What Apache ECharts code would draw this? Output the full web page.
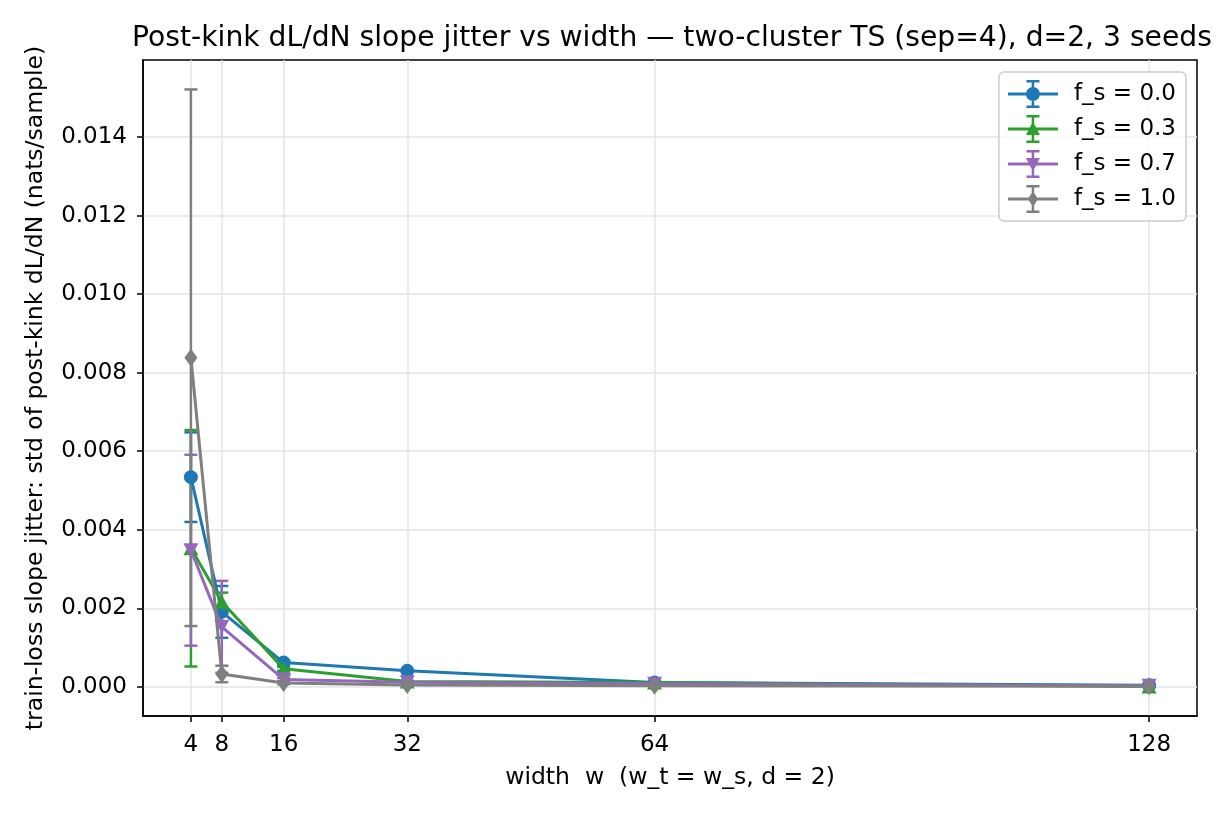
<!DOCTYPE html>
<html>
<head>
<meta charset="utf-8">
<script src="https://cdn.jsdelivr.net/npm/echarts@6.0.0/dist/echarts.min.js"></script>
<style>
  html, body { margin: 0; padding: 0; background: #fff; }
  #chart { width: 1224px; height: 816px; }
</style>
</head>
<body>
<div id="chart"></div>
<script>
// widths on the x axis
const widths = [4, 8, 16, 32, 64, 128];
const xTicks = [4, 8, 16, 32, 64, 128];
const yTicks = [0, 0.002, 0.004, 0.006, 0.008, 0.010, 0.012, 0.014];

// mean and std of the post-kink slope jitter, one pair per f_s
const fs00Mean = [0.00534, 0.00191, 0.00062, 0.00041, 0.00011, 0.00004];
const fs00Std  = [0.00114, 0.00066, 0.00006, 0.00003, 0.00002, 0.00001];
const fs03Mean = [0.00353, 0.00217, 0.00046, 0.00014, 0.00011, 0.00001];
const fs03Std  = [0.00301, 0.00023, 0.00005, 0.00002, 0.00001, 0.00001];
const fs07Mean = [0.00348, 0.00153, 0.00019, 0.00012, 0.00008, 0.00003];
const fs07Std  = [0.00243, 0.00117, 0.00004, 0.00002, 0.00001, 0.00001];
const fs10Mean = [0.00838, 0.00033, 0.00010, 0.00005, 0.00003, 0.00002];
const fs10Std  = [0.00683, 0.00021, 0.00003, 0.00002, 0.00001, 0.00001];

const seriesNames = ['f_s = 0.0', 'f_s = 0.3', 'f_s = 0.7', 'f_s = 1.0'];

const FONT = 'DejaVu Sans';

// legend icons: line + errorbar + marker, in a 50x28 box
const barPart = 'M0,12.5 H50 V15.5 H0 Z M23.75,0 H26.25 V28 H23.75 Z ' +
    'M18.5,0 H31.5 V2.5 H18.5 Z M18.5,25.5 H31.5 V28 H18.5 Z ';
const icons = [
    'path://' + barPart + 'M18,14 A7,7 0 1,1 32,14 A7,7 0 1,1 18,14 Z',
    'path://' + barPart + 'M25,6.5 L32,20 L18,20 Z',
    'path://' + barPart + 'M18,8 L32,8 L25,21.5 Z',
    'path://' + barPart + 'M25,6 L30,14 L25,22 L20,14 Z'
];

const styles = [
    {color: '#1f77b4', symbol: 'circle', size: 14},
    {color: '#2ca02c', symbol: 'triangle', size: [15, 14]},
    {color: '#9467bd', symbol: 'path://M0,0 L10,0 L5,9 Z', size: [15, 14]},
    {color: '#7f7f7f', symbol: 'path://M5,0 L10,8 L5,16 L0,8 Z', size: [13, 18]}
];

const means = [fs00Mean, fs03Mean, fs07Mean, fs10Mean];
const stds = [fs00Std, fs03Std, fs07Std, fs10Std];

function renderErrorBar(params, api) {
    const x = api.value(0);
    const top = api.coord([x, api.value(2)]);
    const bot = api.coord([x, api.value(1)]);
    const hw = 6.5;
    const style = {stroke: api.visual('color'), lineWidth: 2.5, fill: null};
    return {
        type: 'group',
        children: [
            {type: 'line', shape: {x1: top[0], y1: top[1], x2: bot[0], y2: bot[1]}, style: style},
            {type: 'line', shape: {x1: top[0] - hw, y1: top[1], x2: top[0] + hw, y2: top[1]}, style: style},
            {type: 'line', shape: {x1: bot[0] - hw, y1: bot[1], x2: bot[0] + hw, y2: bot[1]}, style: style}
        ]
    };
}

const series = [];
means.forEach(function (m, k) {
    series.push({
        name: 'err' + k,
        type: 'custom',
        renderItem: renderErrorBar,
        itemStyle: {color: styles[k].color},
        encode: {x: 0, y: [1, 2]},
        data: widths.map(function (w, i) { return [w, m[i] - stds[k][i], m[i] + stds[k][i]]; }),
        z: 2,
        silent: true
    });
});
means.forEach(function (m, k) {
    series.push({
        name: seriesNames[k],
        type: 'line',
        data: widths.map(function (w, i) { return [w, m[i]]; }),
        symbol: styles[k].symbol,
        symbolSize: styles[k].size,
        showSymbol: true,
        itemStyle: {color: styles[k].color},
        lineStyle: {color: styles[k].color, width: 3},
        z: 3 + k
    });
});

const chart = echarts.init(document.getElementById('chart'));
chart.setOption({
    animation: false,
    backgroundColor: '#fff',
    textStyle: {fontFamily: FONT},
    title: {
        text: 'Post-kink dL/dN slope jitter vs width \u2014 two-cluster TS (sep=4), d=2, 3 seeds',
        left: 667,
        textAlign: 'center',
        top: 20,
        textStyle: {fontFamily: FONT, fontSize: 28.2, fontWeight: 'normal', color: '#000'}
    },
    grid: {
        left: 143, right: 27, top: 60, bottom: 100,
        show: true, borderColor: '#000', borderWidth: 1.5, backgroundColor: 'transparent'
    },
    legend: {
        orient: 'vertical',
        right: 38,
        top: 72,
        itemWidth: 50,
        itemHeight: 28,
        itemGap: 7,
        padding: [8, 10, 8, 9],
        borderColor: '#cccccc',
        borderWidth: 1.5,
        borderRadius: 5,
        backgroundColor: 'rgba(255,255,255,0.8)',
        textStyle: {fontFamily: FONT, fontSize: 23, color: '#000', padding: [0, 0, 0, 11]},
        data: seriesNames.map(function (n, k) {
            return {name: n, icon: icons[k], itemStyle: {color: styles[k].color, borderWidth: 0}};
        })
    },
    xAxis: {
        type: 'value',
        min: -2.2,
        max: 134.2,
        name: 'width  w  (w_t = w_s, d = 2)',
        nameLocation: 'middle',
        nameGap: 50,
        nameTextStyle: {fontFamily: FONT, fontSize: 23.5, color: '#000'},
        axisLine: {show: true, onZero: false, lineStyle: {color: '#000', width: 1.5}},
        axisTick: {show: true, length: 6, lineStyle: {color: '#000', width: 1.5}, customValues: xTicks},
        axisLabel: {fontFamily: FONT, fontSize: 23, color: '#000', margin: 18, customValues: xTicks},
        splitLine: {show: true, lineStyle: {color: '#e5e5e5', width: 1.5}}
    },
    yAxis: {
        type: 'value',
        min: -0.00074,
        max: 0.01596,
        name: 'train-loss slope jitter: std of post-kink dL/dN (nats/sample)',
        nameLocation: 'middle',
        nameGap: 95,
        nameTextStyle: {fontFamily: FONT, fontSize: 23.5, color: '#000'},
        axisLine: {show: true, onZero: false, lineStyle: {color: '#000', width: 1.5}},
        axisTick: {show: true, length: 6, lineStyle: {color: '#000', width: 1.5}, customValues: yTicks},
        axisLabel: {
            fontFamily: FONT, fontSize: 23, color: '#000', margin: 16, customValues: yTicks,
            formatter: function (v) { return v.toFixed(3); }
        },
        splitLine: {show: true, lineStyle: {color: '#e5e5e5', width: 1.5}}
    },
    series: series
});
</script>
</body>
</html>
